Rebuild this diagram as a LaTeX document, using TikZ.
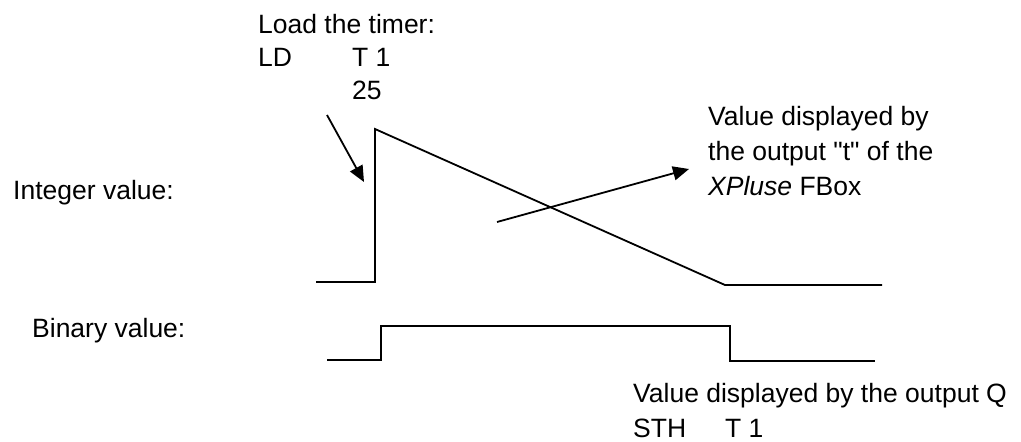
\documentclass[tikz,border=0pt]{standalone}
\usepackage{fontspec}
\setmainfont{Liberation Sans}
\usetikzlibrary{arrows.meta}

\begin{document}
\begin{tikzpicture}[x=1pt, y=-1pt,
    lbl/.style={anchor=base west, inner sep=0pt, align=left,
                font=\fontsize{26.5}{35}\selectfont},
    sig/.style={line width=1.8pt},
    arr/.style={-{Triangle[length=16pt, width=14pt]}, line width=1.8pt}
]
    \useasboundingbox (0,0) rectangle (1021,442);

    % texts
    \node[lbl] (load)  at (258,33)  {Load the timer:};
    \node[lbl] (ld)    at (258,66)  {LD};
    \node[lbl] (tone)  at (352,66)  {T 1};
    \node[lbl] (preset) at (352,99) {25};
    \node[lbl] (intv)  at (13,199)  {Integer value:};
    \node[lbl] (binv)  at (32,337)  {Binary value:};
    % base of a multi-line node is its last line
    \node[lbl] (tout)  at (708,195) {Value displayed by\\the output \textquotedbl t\textquotedbl{} of the\\\textit{XPluse} FBox};
    \node[lbl] (qout)  at (633,402) {Value displayed by the output Q};
    \node[lbl] (sth)   at (633,437) {STH};
    \node[lbl] (sthT)  at (725,437) {T 1};

    % integer signal
    \coordinate (i0) at (316,282);
    \coordinate (i1) at (375,282);
    \coordinate (i2) at (375,129);
    \coordinate (i3) at (725,285);
    \coordinate (i4) at (882,285);
    \draw[sig] (i0) -- (i1) -- (i2) -- (i3) -- (i4);

    % binary signal
    \coordinate (b0) at (327,360);
    \coordinate (b1) at (381,360);
    \coordinate (b2) at (381,326);
    \coordinate (b3) at (730,326);
    \coordinate (b4) at (730,361);
    \coordinate (b5) at (875,361);
    \draw[sig] (b0) -- (b1) -- (b2) -- (b3) -- (b4) -- (b5);

    % pointers
    \coordinate (ldfrom) at (327,115);
    \coordinate (ldto)   at (364,182);
    \coordinate (tfrom)  at (497,222);
    \coordinate (tto)    at (689,169);
    \draw[arr] (ldfrom) -- (ldto);
    \draw[arr] (tfrom) -- (tto);
\end{tikzpicture}
\end{document}
